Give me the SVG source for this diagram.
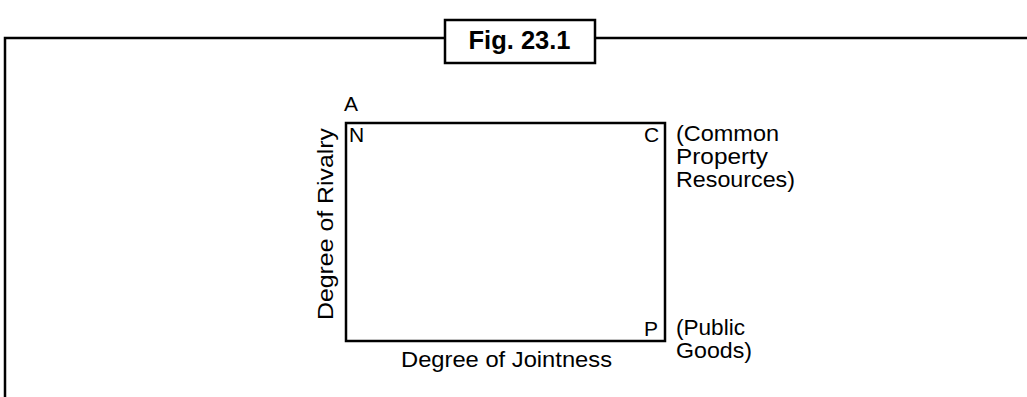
<svg xmlns="http://www.w3.org/2000/svg" width="1027" height="397" viewBox="0 0 1027 397">
<style>
.ln{fill:none;stroke:#000;stroke-width:2.5}
.t{font-family:"Liberation Sans",Arial,sans-serif;font-size:22.5px;fill:#000}
.s{font-family:"Liberation Sans",Arial,sans-serif;font-size:21px;fill:#000}
.b{font-family:"Liberation Sans",Arial,sans-serif;font-size:26px;font-weight:bold;fill:#000}
</style>
<rect width="1027" height="397" fill="#fff"/>
<g id="frame">
<polyline class="ln" points="5,397 5,38 445,38"/>
<line class="ln" x1="595" y1="38" x2="1027" y2="38"/>
</g>
<g id="title">
<rect class="ln" x="445" y="20" width="150" height="43"/>
<text class="b" x="519.5" y="48.5" text-anchor="middle" textLength="102" lengthAdjust="spacingAndGlyphs">Fig. 23.1</text>
</g>
<g id="box">
<rect class="ln" x="346" y="123" width="319" height="218"/>
</g>
<g id="labels">
<text class="s" x="344" y="111">A</text>
<text class="s" x="349" y="142">N</text>
<text class="s" x="644" y="142">C</text>
<text class="s" x="644" y="336">P</text>
<text class="t" x="676" y="141" textLength="103" lengthAdjust="spacingAndGlyphs">(Common</text>
<text class="t" x="676" y="164" textLength="92" lengthAdjust="spacingAndGlyphs">Property</text>
<text class="t" x="676" y="187" textLength="119" lengthAdjust="spacingAndGlyphs">Resources)</text>
<text class="t" x="676" y="335" textLength="69" lengthAdjust="spacingAndGlyphs">(Public</text>
<text class="t" x="676" y="358" textLength="76" lengthAdjust="spacingAndGlyphs">Goods)</text>
<text class="t" x="401" y="367" textLength="211" lengthAdjust="spacingAndGlyphs">Degree of Jointness</text>
<text class="t" transform="translate(333,320) rotate(-90)" x="0" y="0" textLength="192" lengthAdjust="spacingAndGlyphs">Degree of Rivalry</text>
</g>
</svg>
